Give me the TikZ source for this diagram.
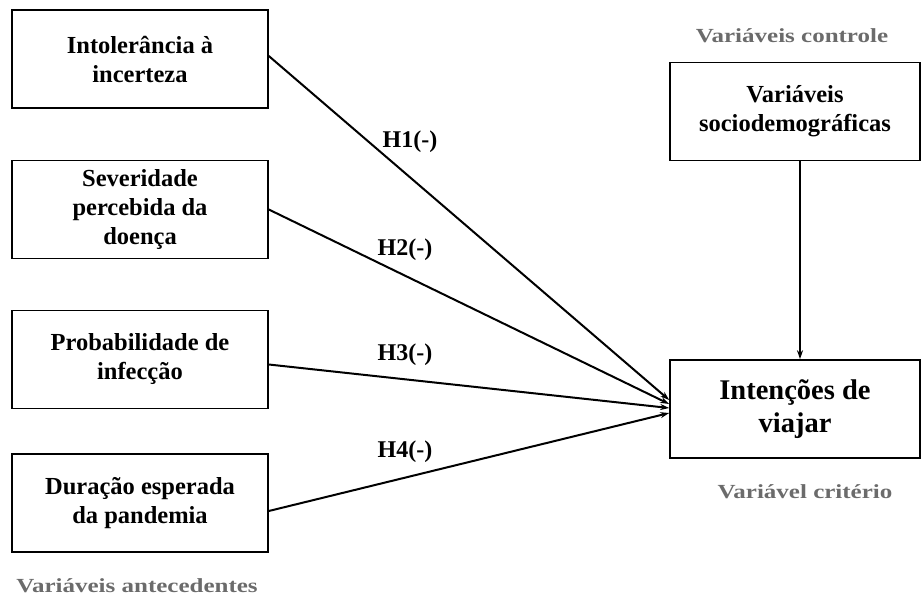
\documentclass[tikz,border=0pt]{standalone}
\usepackage{fontspec}
\setmainfont{Liberation Serif}
\newfontfamily\capfont[FakeStretch=1.25]{Liberation Serif}
\usetikzlibrary{arrows.meta}
\definecolor{capgray}{HTML}{6B6B6B}
\tikzset{
  varbox/.style={draw,line width=1.6pt,minimum width=256pt,minimum height=98pt,align=center,
    font=\fontsize{24.5}{29}\selectfont\bfseries,inner sep=2pt},
  caption/.style={text=capgray,font=\capfont\fontsize{20}{22}\selectfont\bfseries},
  hyp/.style={font=\fontsize{24}{26}\selectfont\bfseries,inner sep=1pt},
  path/.style={line width=2pt,-{Stealth[length=9pt,width=6pt]}}
}
\begin{document}
\begin{tikzpicture}[x=1pt,y=-1pt]
\useasboundingbox (0,0) rectangle (921,602);
% antecedentes
\node[varbox] (intol) at (140,59) {Intolerância à\\incerteza};
\node[varbox] (sever) at (140,209.5) {Severidade\\percebida da\\doença};
\node[varbox] (prob) at (140,359.5) {Probabilidade de\\infecção};
\node[varbox] (dur) at (140,503) {Duração esperada\\da pandemia};
\node[caption] (antec) at (137,586) {Variáveis antecedentes};
% controle e criterio
\node[caption] (ctrl) at (792,36) {Variáveis controle};
\node[varbox,minimum width=250pt] (socio) at (795,111.5) {Variáveis\\sociodemográficas};
\node[varbox,minimum width=250pt,font=\fontsize{28.5}{33}\selectfont\bfseries] (intenc) at (795,409) {Intenções de\\viajar};
\node[caption] (crit) at (805,492) {Variável critério};
% caminhos
\draw[path] ([yshift=3pt]intol.east) -- ([yshift=9pt]intenc.west);
\draw[path] (sever.east) -- ([yshift=5pt]intenc.west);
\draw[path] ([yshift=-5pt]prob.east) -- ([yshift=1pt]intenc.west);
\draw[path] ([yshift=-8pt]dur.east) -- ([yshift=-4pt]intenc.west);
\draw[path] (socio.south -| 800,0) -- (intenc.north -| 800,0);
\node[hyp] (h1) at (410,142) {H1(-)};
\node[hyp] (h2) at (405,250) {H2(-)};
\node[hyp] (h3) at (405,355) {H3(-)};
\node[hyp] (h4) at (405,452) {H4(-)};
\end{tikzpicture}
\end{document}
